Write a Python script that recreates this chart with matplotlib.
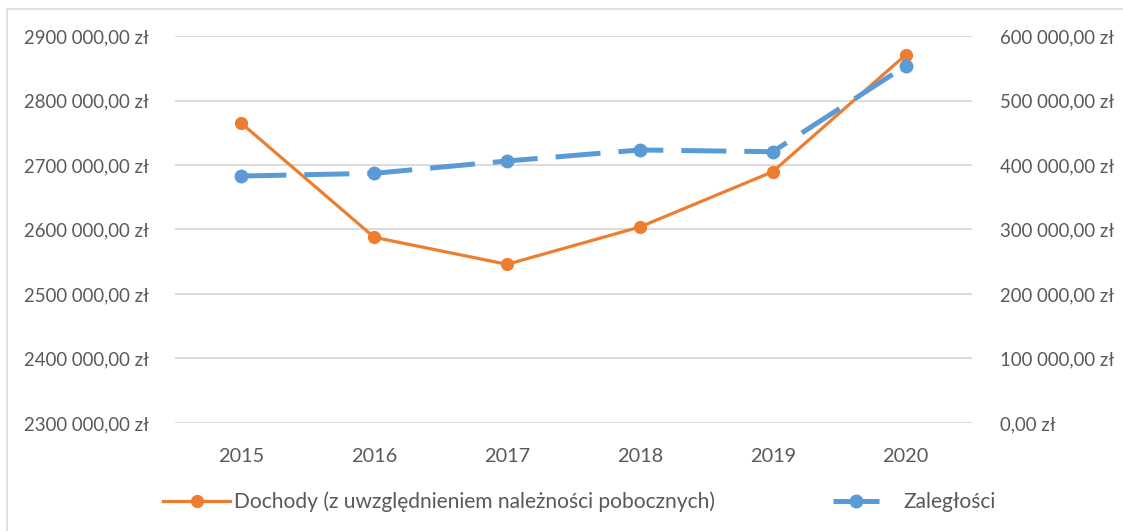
import matplotlib.pyplot as plt
from matplotlib.lines import Line2D
from matplotlib.patches import Rectangle
from matplotlib.ticker import FuncFormatter

plt.rcParams['font.family'] = ['Lato', 'DejaVu Sans']

lata = ['2015', '2016', '2017', '2018', '2019', '2020']
dochody = [2764700, 2587900, 2546000, 2603900, 2689600, 2870500]
zaleglosci = [382900, 387100, 406200, 423300, 420600, 553500]

lewa_osi = [2300000, 2400000, 2500000, 2600000, 2700000, 2800000, 2900000]
prawa_osi = [0, 100000, 200000, 300000, 400000, 500000, 600000]

pomaranczowy = '#ED7D31'
niebieski = '#5B9BD5'
szary = '#595959'


def zl(v, pos=None):
    if v == 0:
        return '0,00 zł'
    s = f'{int(round(v)):,}'.replace(',', ' ')
    # pierwsza grupa w oryginale sklejona (np. "2900 000")
    if len(s) > 7:
        s = s.replace(' ', '', 1)
    return s + ',00 zł'


fig = plt.figure(figsize=(11.23, 5.31), dpi=100)
fig.patches.append(Rectangle((0.006, -0.01), 1.1, 0.993, transform=fig.transFigure,
                             fill=False, edgecolor='#D9D9D9', lw=1.2))

ax = fig.add_axes([0.1558, 0.2034, 0.7097, 0.7288])
ax2 = ax.twinx()

x = list(range(len(lata)))
ax.plot(x, dochody, color=pomaranczowy, lw=2.3, marker='o', ms=8.5, zorder=3)
ax2.plot(x, zaleglosci, color=niebieski, lw=3.6, marker='o', ms=9,
         dashes=(9, 3.6), zorder=3)

ax.set_xlim(-0.5, len(lata) - 0.5)
ax.set_ylim(lewa_osi[0], lewa_osi[-1])
ax2.set_ylim(prawa_osi[0], prawa_osi[-1])
ax.set_yticks(lewa_osi)
ax2.set_yticks(prawa_osi)
ax.set_xticks(x)
ax.set_xticklabels(lata)
ax.yaxis.set_major_formatter(FuncFormatter(zl))
ax2.yaxis.set_major_formatter(FuncFormatter(zl))

ax.grid(axis='y', color='#D9D9D9', lw=1.3)
ax.set_axisbelow(True)
for a in (ax, ax2):
    for s in a.spines.values():
        s.set_visible(False)
    a.tick_params(length=0, labelsize=13.4, colors=szary)
ax.tick_params(axis='y', pad=19)
ax2.tick_params(axis='y', pad=20)
ax.tick_params(axis='x', labelsize=14.3, pad=18)
ax2.set_zorder(ax.get_zorder() + 1)
ax2.patch.set_visible(False)

leg_kw = dict(loc='center left', frameon=False, fontsize=15.1, labelcolor=szary,
              borderpad=0, borderaxespad=0)
leg1 = fig.legend([Line2D([], [], color=pomaranczowy, lw=2.3, marker='o', ms=8.5)],
                  ['Dochody (z uwzględnieniem należności pobocznych)'],
                  bbox_to_anchor=(163 / 1123, 1 - 502 / 531), handlelength=3.2,
                  handletextpad=0.2, **leg_kw)
leg2 = fig.legend([Line2D([], [], color=niebieski, lw=3.6, ls='-', marker='o', ms=9,
                          solid_capstyle='butt')],
                  ['Zaległości'],
                  bbox_to_anchor=(833 / 1123, 1 - 502 / 531), handlelength=2.2,
                  handletextpad=1.15, **leg_kw)

fig.savefig('out.png', dpi=100)
